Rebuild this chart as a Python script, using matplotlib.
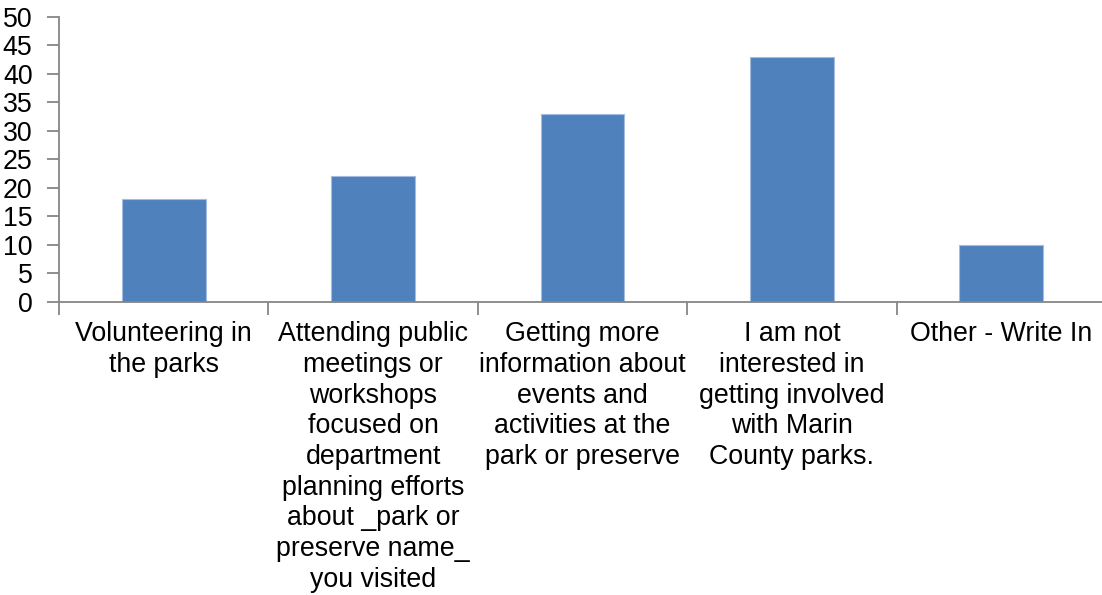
import matplotlib as mpl
mpl.use('Agg')
import matplotlib.pyplot as plt
import numpy as np

categories = [
    'Volunteering in\nthe parks',
    'Attending public\nmeetings or\nworkshops\nfocused on\ndepartment\nplanning efforts\nabout _park or\npreserve name_\nyou visited',
    'Getting more\ninformation about\nevents and\nactivities at the\npark or preserve',
    'I am not\ninterested in\ngetting involved\nwith Marin\nCounty parks.',
    'Other - Write In',
]
values = [18, 22, 33, 43, 10]
yticks = [0, 5, 10, 15, 20, 25, 30, 35, 40, 45, 50]

plt.rcParams['font.family'] = ['Liberation Sans', 'DejaVu Sans']

fig = plt.figure(figsize=(11.02, 5.95), dpi=100)
ax = fig.add_axes([59 / 1102, (595 - 301.7) / 595, 1047 / 1102, 285 / 595])

x = np.arange(len(values))
ax.bar(x, values, width=0.4, color='#4F81BD', edgecolor='#A3BCE0', linewidth=0.8, zorder=2)

ax.set_xlim(-0.5, len(values) - 0.5)
ax.set_ylim(0, 50)
ax.set_yticks(yticks)
ax.set_yticklabels([str(v) for v in yticks], fontsize=19.3)

# category boundaries get the tick marks, labels sit at the centres
ax.set_xticks(np.arange(len(values) + 1) - 0.5)
ax.set_xticklabels([])
ax.set_xticks(x, minor=True)
ax.set_xticklabels(categories, minor=True, fontsize=19.3, linespacing=1.235, ha='center', va='top')
ax.tick_params(axis='x', which='minor', length=0, pad=14)
ax.tick_params(axis='x', which='major', length=9, width=1.3, color='#868686', direction='out')
ax.tick_params(axis='y', length=9, width=1.3, color='#868686', direction='out', pad=10)

for s in ['top', 'right']:
    ax.spines[s].set_visible(False)
for s in ['left', 'bottom']:
    ax.spines[s].set_color('#868686')
    ax.spines[s].set_linewidth(1.3)

plt.savefig('out.png', dpi=100)
plt.close()
